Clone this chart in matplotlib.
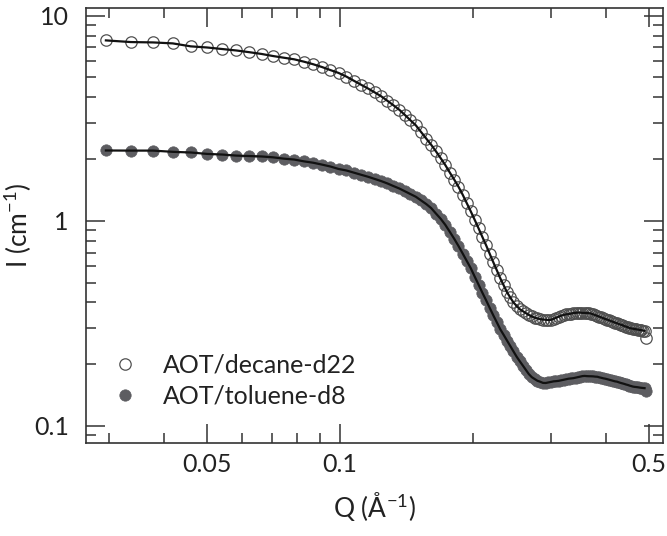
import matplotlib
matplotlib.use('Agg')
import matplotlib.pyplot as plt
from matplotlib.ticker import FixedLocator, NullFormatter, FuncFormatter

plt.rcParams['font.family'] = ['Lato', 'DejaVu Sans']
plt.rcParams['mathtext.default'] = 'regular'

# scattering vector Q (1/Angstrom), same grid for both samples
q = [0.0295, 0.0336, 0.0377, 0.0418, 0.0459, 0.0500, 0.0541, 0.0582, 0.0623, 0.0664,
     0.0705, 0.0746, 0.0787, 0.0828, 0.0869, 0.0910, 0.0951, 0.0992, 0.1033, 0.1074,
     0.1115, 0.1156, 0.1197, 0.1238, 0.1279, 0.1320, 0.1361, 0.1402, 0.1443, 0.1484,
     0.1525, 0.1566, 0.1607, 0.1648, 0.1689, 0.1730, 0.1771, 0.1812, 0.1853, 0.1894,
     0.1935, 0.1976, 0.2017, 0.2058, 0.2099, 0.2140, 0.2181, 0.2222, 0.2263, 0.2304,
     0.2345, 0.2386, 0.2427, 0.2468, 0.2509, 0.2550, 0.2591, 0.2632, 0.2673, 0.2714,
     0.2755, 0.2796, 0.2837, 0.2878, 0.2919, 0.2960, 0.3001, 0.3042, 0.3083, 0.3124,
     0.3165, 0.3206, 0.3247, 0.3288, 0.3329, 0.3370, 0.3411, 0.3452, 0.3493, 0.3534,
     0.3575, 0.3616, 0.3657, 0.3698, 0.3739, 0.3780, 0.3821, 0.3862, 0.3903, 0.3944,
     0.3985, 0.4026, 0.4067, 0.4108, 0.4149, 0.4190, 0.4231, 0.4272, 0.4313, 0.4354,
     0.4395, 0.4436, 0.4477, 0.4518, 0.4559, 0.4600, 0.4641, 0.4682, 0.4723, 0.4764,
     0.4805, 0.4846, 0.4887, 0.4928]

# I(Q) in 1/cm, AOT in decane-d22
i_decane = [7.58, 7.44, 7.41, 7.33, 7.09, 7.00, 6.88, 6.77, 6.64, 6.51,
            6.36, 6.24, 6.13, 5.97, 5.80, 5.62, 5.43, 5.26, 5.05, 4.82,
            4.61, 4.42, 4.23, 4.05, 3.85, 3.66, 3.48, 3.28, 3.09, 2.92,
            2.71, 2.52, 2.35, 2.18, 2.02, 1.87, 1.72, 1.59, 1.466, 1.341,
            1.219, 1.111, 1.010, 0.918, 0.834, 0.760, 0.690, 0.628, 0.574, 0.525,
            0.485, 0.449, 0.423, 0.400, 0.385, 0.371, 0.363, 0.355, 0.348, 0.342,
            0.3375, 0.3345, 0.3316, 0.3304, 0.3296, 0.3285, 0.3293, 0.333, 0.337, 0.341,
            0.345, 0.348, 0.350, 0.351, 0.353, 0.355, 0.356, 0.357, 0.357, 0.356,
            0.356, 0.355, 0.355, 0.353, 0.350, 0.347, 0.344, 0.341, 0.338, 0.335,
            0.332, 0.330, 0.327, 0.324, 0.322, 0.319, 0.317, 0.314, 0.312, 0.310,
            0.307, 0.305, 0.303, 0.300, 0.299, 0.298, 0.297, 0.296, 0.295, 0.294,
            0.293, 0.292, 0.291, 0.269]

# I(Q) in 1/cm, AOT in toluene-d8
i_toluene = [2.203, 2.200, 2.200, 2.170, 2.154, 2.120, 2.105, 2.080, 2.070, 2.060,
             2.040, 2.010, 1.990, 1.950, 1.920, 1.880, 1.840, 1.790, 1.760, 1.718,
             1.678, 1.641, 1.601, 1.563, 1.522, 1.478, 1.438, 1.393, 1.350, 1.310,
             1.257, 1.208, 1.154, 1.085, 1.023, 0.956, 0.884, 0.818, 0.754, 0.693,
             0.637, 0.587, 0.534, 0.488, 0.446, 0.410, 0.376, 0.346, 0.320, 0.296,
             0.278, 0.261, 0.2454, 0.2309, 0.2176, 0.2068, 0.1971, 0.1878, 0.1791, 0.1731,
             0.1695, 0.1661, 0.1643, 0.1622, 0.1620, 0.163, 0.164, 0.165, 0.1654, 0.166,
             0.167, 0.168, 0.169, 0.170, 0.1705, 0.171, 0.172, 0.173, 0.174, 0.175,
             0.1754, 0.175, 0.1748, 0.1747, 0.1745, 0.174, 0.1738, 0.1726, 0.1717, 0.1707,
             0.170, 0.169, 0.168, 0.167, 0.166, 0.165, 0.1645, 0.1633, 0.1622, 0.1613,
             0.1604, 0.1593, 0.1585, 0.1574, 0.1565, 0.1556, 0.1551, 0.1548, 0.1544, 0.1539,
             0.1535, 0.1532, 0.1529, 0.1481]

x_major = [0.05, 0.1, 0.5]
x_minor = [0.03, 0.04, 0.06, 0.07, 0.08, 0.09, 0.2, 0.3, 0.4]
y_major = [0.1, 1, 10]
y_minor = [0.09, 0.2, 0.3, 0.4, 0.5, 0.6, 0.7, 0.8, 0.9,
           2, 3, 4, 5, 6, 7, 8, 9]

AXIS_COLOR = '#333333'
TEXT_COLOR = '#222222'
FILL_GRAY = '#5d5d61'


def main():
    fig = plt.figure(figsize=(6.67, 5.36), dpi=100)
    ax = fig.add_axes([0.129, 0.1735, 0.865, 0.8115])

    ax.plot(q, i_decane, linestyle='none', marker='o', markersize=8.2,
            markerfacecolor='none', markeredgecolor='#505050', markeredgewidth=0.9,
            label='AOT/decane-d22')
    ax.plot(q, i_toluene, linestyle='none', marker='o', markersize=8.2,
            markerfacecolor=FILL_GRAY, markeredgecolor=FILL_GRAY, markeredgewidth=0.5,
            label='AOT/toluene-d8')

    # model fits drawn over the data
    ax.plot(q[:-1], i_decane[:-1], color='#111111', lw=1.6, zorder=5)
    ax.plot(q[:-1], i_toluene[:-1], color='#111111', lw=1.6, zorder=5)

    ax.set_xscale('log')
    ax.set_yscale('log')
    ax.set_xlim(0.0266, 0.538)
    ax.set_ylim(0.0826, 10.9)

    ax.xaxis.set_major_locator(FixedLocator(x_major))
    ax.xaxis.set_minor_locator(FixedLocator(x_minor))
    ax.yaxis.set_major_locator(FixedLocator(y_major))
    ax.yaxis.set_minor_locator(FixedLocator(y_minor))
    ax.xaxis.set_major_formatter(FuncFormatter(lambda v, p: '%g' % v))
    ax.yaxis.set_major_formatter(FuncFormatter(lambda v, p: '%g' % v))
    ax.xaxis.set_minor_formatter(NullFormatter())
    ax.yaxis.set_minor_formatter(NullFormatter())

    ax.tick_params(which='both', direction='in', top=True, right=True,
                   color=AXIS_COLOR, width=1.1, labelsize=18, labelcolor=TEXT_COLOR)
    ax.tick_params(which='major', length=13.5)
    ax.tick_params(which='minor', length=7)
    ax.tick_params(axis='x', which='major', pad=7)
    ax.tick_params(axis='y', which='major', pad=12.5)
    for s in ax.spines.values():
        s.set_color(AXIS_COLOR)
        s.set_linewidth(1.2)

    ax.set_xlabel(r'Q ($\AA^{-1}$)', fontsize=19, color=TEXT_COLOR, labelpad=10)
    ax.set_ylabel(r'I (cm$^{-1}$)', fontsize=19, color=TEXT_COLOR, labelpad=0)

    ax.legend(loc='lower left', bbox_to_anchor=(0.012, 0.03), frameon=False,
              fontsize=18, handlelength=0.8, handletextpad=1.1, labelspacing=0.32,
              labelcolor=TEXT_COLOR)

    fig.savefig('out.png', dpi=100)


if __name__ == '__main__':
    main()
